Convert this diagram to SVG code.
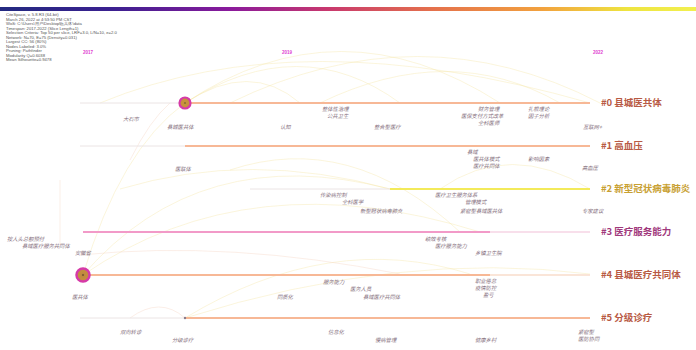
<svg xmlns="http://www.w3.org/2000/svg" width="696" height="350" viewBox="0 0 696 350">
<defs>
<linearGradient id="bar" x1="0" y1="0" x2="1" y2="0">
<stop offset="0" stop-color="#232a80"/>
<stop offset="0.16" stop-color="#3a2090"/>
<stop offset="0.33" stop-color="#8a1a9c"/>
<stop offset="0.47" stop-color="#c8386e"/>
<stop offset="0.62" stop-color="#e4704c"/>
<stop offset="0.78" stop-color="#f2a23e"/>
<stop offset="0.9" stop-color="#eee440"/>
<stop offset="1" stop-color="#f2f050"/>
</linearGradient>
<radialGradient id="core">
<stop offset="0" stop-color="#8a6a30"/>
<stop offset="0.25" stop-color="#c08a40"/>
<stop offset="1" stop-color="#c8923c"/>
</radialGradient>
</defs>
<style>
.hdr{font-family:"Liberation Sans",Arial,sans-serif;font-size:4.2px;fill:#555}
.yr{font-family:"Liberation Sans",Arial,sans-serif;font-size:4.5px;font-weight:bold;fill:#e040d0}
.kw{font-family:"Noto Sans CJK SC",sans-serif;font-size:5.3px;font-style:italic;fill:#86707e}
.cl{font-family:"Noto Sans CJK SC","Liberation Sans",sans-serif;font-size:9.5px;font-weight:bold}
.faint{stroke:#ebe4e4;stroke-width:1;fill:none}
.arc{fill:none;stroke:#f6e6a8;stroke-width:0.9;opacity:0.45}
.arc2{fill:none;stroke:#f6d4c4;stroke-width:0.9;opacity:0.45}
</style>
<rect width="696" height="350" fill="#ffffff"/>
<rect x="0" y="7" width="696" height="4" fill="url(#bar)"/>
<g id="header">
<text class="hdr" x="6" y="16">CiteSpace, v. 5.8.R3 (64-bit)</text>
<text class="hdr" x="6" y="20.5">March 26, 2022 at 4:53:50 PM CST</text>
<text class="hdr" x="6" y="25">WoS: C:\Users\用户\Desktop\医共体\data</text>
<text class="hdr" x="6" y="29.5">Timespan: 2017-2022 (Slice Length=1)</text>
<text class="hdr" x="6" y="34">Selection Criteria: Top 50 per slice, LRF=3.0, L/N=10, e=2.0</text>
<text class="hdr" x="6" y="38.5">Network: N=70, E=75 (Density=0.031)</text>
<text class="hdr" x="6" y="43">Largest CC: 56 (80%)</text>
<text class="hdr" x="6" y="47.5">Nodes Labeled: 3.0%</text>
<text class="hdr" x="6" y="52">Pruning: Pathfinder</text>
<text class="hdr" x="6" y="56.5">Modularity Q=0.6038</text>
<text class="hdr" x="6" y="61">Mean Silhouette=0.9478</text>
</g>
<g id="years">
<text class="yr" x="83" y="54">2017</text>
<text class="yr" x="282" y="54">2019</text>
<text class="yr" x="593" y="54">2022</text>
</g>
<g id="connectors">
<path class="arc" d="M185,103 Q340,0 500,103"/>
<path class="arc" d="M185,103 Q300,30 400,103"/>
<path class="arc" d="M100,103 Q300,20 590,103"/>
<path class="arc" d="M230,103 Q420,10 600,103"/>
<path class="arc" d="M185,103 Q250,60 300,103"/>
<path class="arc" d="M320,103 Q450,40 560,103"/>
<path class="arc" d="M83,275 Q120,150 185,103"/>
<path class="arc" d="M83,275 Q200,140 390,189"/>
<path class="arc" d="M83,275 Q250,160 480,232"/>
<path class="arc" d="M230,170 Q350,130 460,232"/>
<path class="arc" d="M120,189 Q250,150 390,189"/>
<path class="arc" d="M440,189 Q510,140 590,189"/>
<path class="arc" d="M185,318 Q330,230 470,274"/>
<path class="arc" d="M185,318 Q400,250 590,274"/>
<path class="arc2" d="M130,318 Q160,296 185,318"/>
<path class="arc2" d="M80,255 Q230,240 400,274"/>
<path class="arc2" d="M60,180 L60,245"/>
<path class="arc2" d="M130,160 Q150,120 170,103"/>
</g>
<g id="cluster0">
<line class="faint" x1="80" y1="103" x2="185" y2="103"/>
<line x1="185" y1="103" x2="590" y2="103" stroke="#f7b896" stroke-width="2"/>
<circle cx="185" cy="103" r="5.5" fill="#c8923c" stroke="#d63aa8" stroke-width="2.2"/>
<circle cx="185" cy="103" r="1" fill="#8a6a30"/>
<text class="cl" x="601" y="106" fill="#b85a44">#0 县城医共体</text>
</g>
<g id="cluster1">
<line class="faint" x1="80" y1="146" x2="185" y2="146"/>
<line x1="185" y1="146" x2="590" y2="146" stroke="#f7b896" stroke-width="2"/>
<text class="cl" x="601" y="149" fill="#b85a44">#1 高血压</text>
</g>
<g id="cluster2">
<line class="faint" x1="250" y1="189" x2="390" y2="189"/>
<line x1="390" y1="189" x2="590" y2="189" stroke="#f3ea5a" stroke-width="2"/>
<text class="cl" x="601" y="192" fill="#c8a032">#2 新型冠状病毒肺炎</text>
</g>
<g id="cluster3">
<line x1="83" y1="232" x2="490" y2="232" stroke="#f29ac8" stroke-width="2"/>
<line x1="490" y1="232" x2="590" y2="232" stroke="#f6d4e4" stroke-width="1.5"/>
<text class="cl" x="601" y="235" fill="#a0387c">#3 医疗服务能力</text>
</g>
<g id="cluster4">
<line x1="83" y1="275" x2="490" y2="275" stroke="#f7b896" stroke-width="2"/>
<line x1="490" y1="275" x2="590" y2="275" stroke="#f9dccb" stroke-width="1.5"/>
<circle cx="83" cy="275" r="6.5" fill="url(#core)" stroke="#d63aa8" stroke-width="2.5"/>
<circle cx="83" cy="275" r="1" fill="#7a5a30"/>
<text class="cl" x="601" y="278" fill="#b85a44">#4 县城医疗共同体</text>
</g>
<g id="cluster5">
<line class="faint" x1="80" y1="318" x2="185" y2="318"/>
<line x1="185" y1="318" x2="590" y2="318" stroke="#f7b896" stroke-width="2"/>
<circle cx="185" cy="318" r="1.2" fill="#8a7a88"/>
<text class="cl" x="601" y="321" fill="#b85a44">#5 分级诊疗</text>
</g>
<g id="keywords0">
<text class="kw" x="123" y="121">大石市</text>
<text class="kw" x="167" y="129">县城医共体</text>
<text class="kw" x="280" y="129">认知</text>
<text class="kw" x="322" y="111">整体性治理</text>
<text class="kw" x="327" y="118">公共卫生</text>
<text class="kw" x="374" y="129">整合型医疗</text>
<text class="kw" x="478" y="111">财务管理</text>
<text class="kw" x="461" y="118">医保支付方式改革</text>
<text class="kw" x="478" y="125">全科医师</text>
<text class="kw" x="528" y="111">扎根理论</text>
<text class="kw" x="528" y="118">因子分析</text>
<text class="kw" x="583" y="129">互联网+</text>
</g>
<g id="keywords1">
<text class="kw" x="467" y="154">县域</text>
<text class="kw" x="473" y="161">医共体模式</text>
<text class="kw" x="528" y="161">影响因素</text>
<text class="kw" x="473" y="168">医疗共同体</text>
<text class="kw" x="582" y="170">高血压</text>
<text class="kw" x="175" y="171">医联体</text>
</g>
<g id="keywords2">
<text class="kw" x="320" y="197">传染病控制</text>
<text class="kw" x="342" y="204">全科医学</text>
<text class="kw" x="360" y="213">新型冠状病毒肺炎</text>
<text class="kw" x="435" y="197">医疗卫生服务体系</text>
<text class="kw" x="465" y="204">管理模式</text>
<text class="kw" x="460" y="213">紧密型县域医共体</text>
<text class="kw" x="582" y="213">专家建议</text>
</g>
<g id="keywords3">
<text class="kw" x="7" y="241">按人头总额预付</text>
<text class="kw" x="22" y="248">县域医疗服务共同体</text>
<text class="kw" x="75" y="255">安徽省</text>
<text class="kw" x="425" y="241">绩效考核</text>
<text class="kw" x="435" y="248">医疗服务能力</text>
<text class="kw" x="475" y="255">乡镇卫生院</text>
</g>
<g id="keywords4">
<text class="kw" x="72" y="299">医共体</text>
<text class="kw" x="323" y="284">服务能力</text>
<text class="kw" x="350" y="291">医务人员</text>
<text class="kw" x="277" y="299">同质化</text>
<text class="kw" x="363" y="299">县域医疗共同体</text>
<text class="kw" x="475" y="283">职业倦怠</text>
<text class="kw" x="475" y="290">疫情防控</text>
<text class="kw" x="483" y="297">盈亏</text>
</g>
<g id="keywords5">
<text class="kw" x="120" y="334">双向转诊</text>
<text class="kw" x="172" y="342">分级诊疗</text>
<text class="kw" x="328" y="334">信息化</text>
<text class="kw" x="375" y="342">慢病管理</text>
<text class="kw" x="475" y="342">健康乡村</text>
<text class="kw" x="578" y="334">紧密型</text>
<text class="kw" x="578" y="341">医防协同</text>
</g>
</svg>
